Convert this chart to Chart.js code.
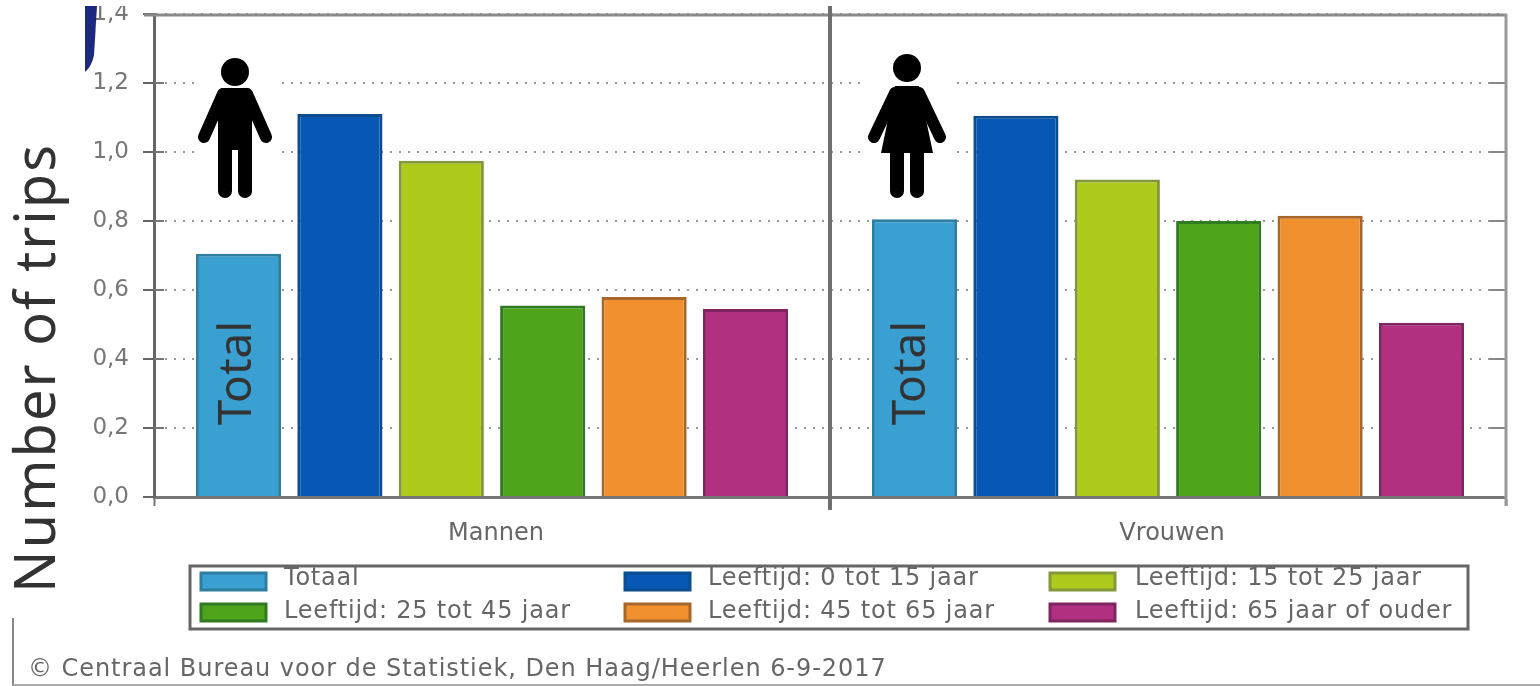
<!DOCTYPE html>
<html>
<head>
<meta charset="utf-8">
<title>Aantal verplaatsingen</title>
<script src="https://cdn.jsdelivr.net/npm/chart.js@4/dist/chart.umd.min.js"></script>
<style>
  html, body { margin: 0; background: #fff; overflow: hidden; }
  canvas { display: block; }
</style>
</head>
<body>
<canvas id="grafico" width="1540" height="686"></canvas>
<script>
const categorias = ['Mannen', 'Vrouwen'];
const etiquetasY = ['0,0', '0,2', '0,4', '0,6', '0,8', '1,0', '1,2', '1,4'];

const totaal = [0.705, 0.805];
const leeftijd0tot15 = [1.11, 1.105];
const leeftijd15tot25 = [0.975, 0.92];
const leeftijd25tot45 = [0.555, 0.80];
const leeftijd45tot65 = [0.58, 0.815];
const leeftijd65ouder = [0.545, 0.505];

const nombres = [
  'Totaal', 'Leeftijd: 0 tot 15 jaar', 'Leeftijd: 15 tot 25 jaar',
  'Leeftijd: 25 tot 45 jaar', 'Leeftijd: 45 tot 65 jaar', 'Leeftijd: 65 jaar of ouder'
];
const rellenos = ['#3a9fd1', '#0757b5', '#aecb1c', '#4fa31b', '#f0902f', '#b1307f'];
const bordes = ['#2f7d9f', '#0b4c8e', '#83983a', '#2f7a22', '#a5672a', '#7f2560'];

const series = [totaal, leeftijd0tot15, leeftijd15tot25, leeftijd25tot45, leeftijd45tot65, leeftijd65ouder];

const tituloEje = 'Number of trips';
const etiquetaTotal = 'Total';
const fuente = '© Centraal Bureau voor de Statistiek, Den Haag/Heerlen 6-9-2017';

function linea(ctx, x1, y1, x2, y2, color, ancho) {
  ctx.strokeStyle = color;
  ctx.lineWidth = ancho;
  ctx.beginPath();
  ctx.moveTo(x1, y1);
  ctx.lineTo(x2, y2);
  ctx.stroke();
}

function brazosYPiernas(ctx, cx, brazoX, hombroY, inicioPierna) {
  ctx.lineCap = 'round';
  linea(ctx, cx - 12, hombroY, cx - brazoX, 137, '#000', 12);
  linea(ctx, cx + 12, hombroY, cx + brazoX, 137, '#000', 12);
  linea(ctx, cx - 10, inicioPierna, cx - 10, 191, '#000', 14);
  linea(ctx, cx + 10, inicioPierna, cx + 10, 191, '#000', 14);
  ctx.lineCap = 'butt';
}

// hombre sobre la barra de Mannen
function dibujarHombre(ctx) {
  const cx = 235;
  ctx.fillStyle = '#fff';
  ctx.fillRect(195, 55, 81, 143);
  ctx.fillStyle = '#000';
  ctx.beginPath();
  ctx.arc(cx, 72, 14, 0, Math.PI * 2);
  ctx.fill();
  brazosYPiernas(ctx, cx, 31, 94, 145);
  ctx.beginPath();
  ctx.roundRect(cx - 17, 88, 34, 62, 5);
  ctx.fill();
}

// mujer sobre la barra de Vrouwen
function dibujarMujer(ctx) {
  const cx = 907;
  ctx.fillStyle = '#fff';
  ctx.fillRect(862, 53, 88, 145);
  ctx.fillStyle = '#000';
  ctx.beginPath();
  ctx.arc(cx, 68, 14, 0, Math.PI * 2);
  ctx.fill();
  brazosYPiernas(ctx, cx, 33, 93, 150);
  ctx.beginPath();
  ctx.moveTo(cx - 12, 86);
  ctx.lineTo(cx + 12, 86);
  ctx.lineTo(cx + 26, 153);
  ctx.lineTo(cx - 26, 153);
  ctx.closePath();
  ctx.fill();
}

function textoVertical(ctx, texto, x, y, font, espacio) {
  ctx.save();
  ctx.translate(x, y);
  ctx.rotate(-Math.PI / 2);
  ctx.letterSpacing = espacio;
  ctx.font = font;
  ctx.fillStyle = '#333';
  ctx.textAlign = 'center';
  ctx.textBaseline = 'middle';
  ctx.fillText(texto, 0, 0);
  ctx.restore();
}

// marco del grafico, divisor central y marcas interiores
const marcoPlugin = {
  id: 'marco',
  afterDatasetsDraw(chart) {
    const ctx = chart.ctx;
    const a = chart.chartArea;
    const y = chart.scales.y;
    const x = chart.scales.x;
    ctx.save();
    etiquetasY.forEach(function(t, i) {
      const py = y.getPixelForValue(i * 0.2);
      if (i > 0 && i < 7) {
        linea(ctx, a.left, py, a.left + 10, py, '#777', 2);
        linea(ctx, a.right - 16, py, a.right, py, '#888', 2);
      }
    });
    linea(ctx, a.left - 10, a.top + 1, a.right + 1, a.top + 1, '#8a8a8a', 3);
    linea(ctx, a.right, a.top, a.right, a.bottom + 9, '#999', 3);
    const medio = (x.getPixelForValue(0) + x.getPixelForValue(1)) / 2;
    linea(ctx, medio, 6, medio, a.bottom + 13, '#6f6f6f', 4);

    dibujarHombre(ctx);
    dibujarMujer(ctx);

    ctx.restore();
  },
  afterDraw(chart) {
    const ctx = chart.ctx;
    ctx.save();

    // recorte superior y mancha azul junto al eje
    ctx.fillStyle = '#fff';
    ctx.fillRect(85, 0, 60, 6);
    ctx.fillStyle = '#1b2a7e';
    ctx.beginPath();
    ctx.moveTo(85, 6);
    ctx.lineTo(97, 6);
    ctx.lineTo(94, 55);
    ctx.quadraticCurveTo(92, 66, 85, 72);
    ctx.closePath();
    ctx.fill();

    // leyenda en tres columnas
    const columnas = [
      { swatch: 201, texto: 284 },
      { swatch: 625, texto: 708 },
      { swatch: 1050, texto: 1135 }
    ];
    const filas = [{ caja: 573, texto: 579 }, { caja: 604, texto: 612 }];
    ctx.strokeStyle = '#666';
    ctx.lineWidth = 3;
    ctx.strokeRect(190, 566, 1278, 63);
    ctx.letterSpacing = '0.8px';
    ctx.font = '24px "DejaVu Sans"';
    ctx.textBaseline = 'middle';
    ctx.textAlign = 'left';
    chart.data.datasets.forEach(function(ds, i) {
      const col = columnas[i % 3];
      const fila = filas[Math.floor(i / 3)];
      ctx.fillStyle = ds.backgroundColor;
      ctx.strokeStyle = ds.borderColor;
      ctx.lineWidth = 3;
      ctx.fillRect(col.swatch, fila.caja, 65, 17);
      ctx.strokeRect(col.swatch, fila.caja, 65, 17);
      ctx.fillStyle = '#666';
      ctx.fillText(ds.label, col.texto, fila.texto);
    });

    // pie con la fuente y lineas del borde
    ctx.fillStyle = '#666';
    ctx.letterSpacing = '0.95px';
    ctx.font = '24px "DejaVu Sans"';
    ctx.fillText(fuente, 28, 670);
    ctx.letterSpacing = '0px';
    linea(ctx, 13, 618, 13, 686, '#888', 2);
    linea(ctx, 13, 685, 1540, 685, '#aaa', 2);

    // textos superpuestos
    textoVertical(ctx, tituloEje, 39, 368, '56px "Noto Sans"', '2px');
    textoVertical(ctx, etiquetaTotal, 238, 373, '46px "Noto Sans"', '0px');
    textoVertical(ctx, etiquetaTotal, 912, 373, '46px "Noto Sans"', '0px');
    ctx.restore();
  }
};

new Chart(document.getElementById('grafico').getContext('2d'), {
  type: 'bar',
  data: {
    labels: categorias,
    datasets: series.map(function(valores, i) {
      return {
        label: nombres[i],
        data: valores,
        backgroundColor: rellenos[i],
        borderColor: bordes[i],
        borderWidth: 3,
        categoryPercentage: 0.9,
        barPercentage: 0.84
      };
    })
  },
  options: {
    responsive: false,
    animation: false,
    layout: { padding: { top: 14, right: 34, left: 0, bottom: 0 } },
    plugins: {
      legend: { display: false },
      title: { display: false },
      tooltip: { enabled: false }
    },
    scales: {
      x: {
        afterFit: function(eje) { eje.height = 189; },
        border: { color: '#777', width: 3 },
        grid: { drawOnChartArea: false, tickColor: '#777', tickWidth: 2, tickLength: 9 },
        ticks: { color: '#666', font: { family: 'DejaVu Sans', size: 24 }, padding: 13, labelOffset: 4 }
      },
      y: {
        min: 0,
        max: 1.4,
        afterFit: function(eje) {
          eje.width = 154;
          // el eje no reserva sitio extra arriba ni abajo
          eje.paddingTop = 0;
          eje.paddingBottom = 0;
        },
        border: { color: '#666', width: 3, dash: [2, 7] },
        grid: { color: '#999', lineWidth: 2, tickColor: '#666', tickWidth: 2, tickLength: 11 },
        ticks: {
          stepSize: 0.2,
          color: '#777',
          font: { family: 'DejaVu Sans', size: 23 },
          padding: 14,
          callback: function(valor, i) { return etiquetasY[i]; }
        }
      }
    }
  },
  plugins: [marcoPlugin]
});
</script>
</body>
</html>
